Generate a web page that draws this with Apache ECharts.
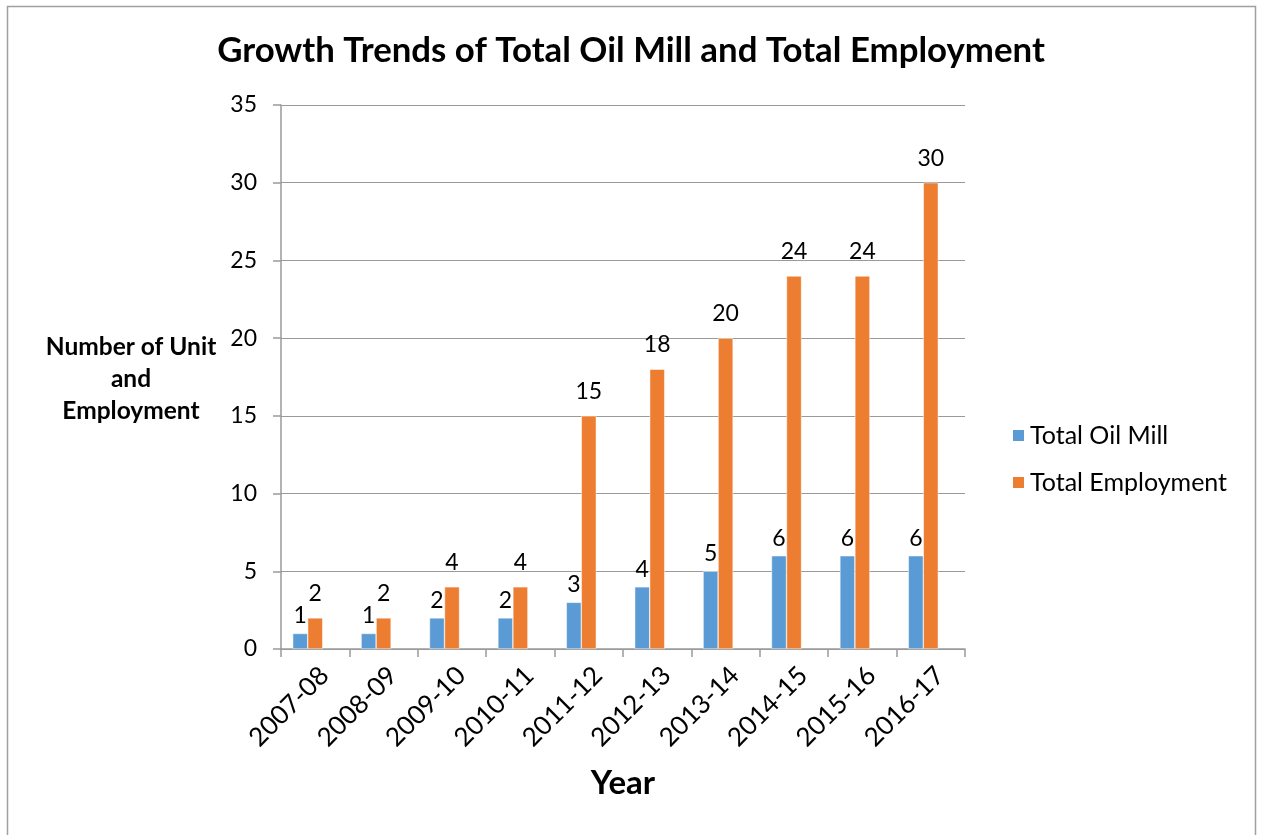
<!DOCTYPE html>
<html>
<head>
<meta charset="utf-8">
<script src="https://cdn.jsdelivr.net/npm/echarts@6/dist/echarts.min.js"></script>
<style>
    html, body { margin: 0; padding: 0; background: #fff; }
    #chart { width: 1262px; height: 835px; }
</style>
</head>
<body>
<div id="chart"></div>
<script>
// chart values
const years = ["2007-08", "2008-09", "2009-10", "2010-11", "2011-12", "2012-13", "2013-14", "2014-15", "2015-16", "2016-17"];
const oilMill = [1, 1, 2, 2, 3, 4, 5, 6, 6, 6];
const employment = [2, 2, 4, 4, 15, 18, 20, 24, 24, 30];

const font = "Lato, 'Open Sans', sans-serif";

let myChart = echarts.init(document.getElementById("chart"));

const opts = {
    textStyle: { fontFamily: font, color: "#000" },
    title: {
        text: "Growth Trends of Total Oil Mill and Total Employment",
        left: "center",
        top: 28,
        textStyle: { fontFamily: font, fontSize: 34.8, fontWeight: "bold", color: "#000" },
    },
    legend: {
        orient: "vertical",
        left: 1006,
        top: 418,
        itemWidth: 13,
        itemHeight: 13,
        itemGap: 22,
        icon: "rect",
        textStyle: { fontFamily: font, fontSize: 25, color: "#000" },
        data: ["Total Oil Mill", "Total Employment"],
    },
    graphic: [
        {
            type: "text",
            x: 131,
            y: 331,
            style: {
                text: "Number of Unit\nand\nEmployment",
                fontFamily: font,
                fontSize: 24.5,
                fontWeight: "bold",
                lineHeight: 32,
                align: "center",
                fill: "#000",
            },
        },
        {
            // outer frame like the original picture
            type: "rect",
            shape: { x: 7.5, y: 6.5, width: 1248, height: 840 },
            style: { fill: "none", stroke: "#a0a0a0", lineWidth: 1.5 },
            silent: true,
        },
    ],
    grid: {
        left: 281,
        right: 297,
        top: 105,
        bottom: 186,
    },
    xAxis: {
        type: "category",
        data: years,
        name: "Year",
        nameLocation: "middle",
        nameGap: 118,
        nameTextStyle: { fontFamily: font, fontSize: 33, fontWeight: "bold", color: "#000" },
        axisLine: { lineStyle: { color: "#9a9a9a", width: 1.5 } },
        axisTick: { show: true, length: 8, lineStyle: { color: "#9a9a9a", width: 1.5 } },
        axisLabel: { rotate: 45, interval: 0, fontSize: 26, color: "#000", margin: 13, verticalAlign: "top" },
    },
    yAxis: {
        type: "value",
        min: 0,
        max: 35,
        interval: 5,
        axisLine: { show: true, lineStyle: { color: "#9a9a9a", width: 1.5 } },
        axisTick: { show: true, length: 8, lineStyle: { color: "#9a9a9a", width: 1.5 } },
        axisLabel: { fontSize: 23, color: "#000", margin: 24 },
        splitLine: { lineStyle: { color: "#9a9a9a", width: 1 } },
    },
    series: [
        {
            name: "Total Oil Mill",
            type: "bar",
            data: oilMill,
            barWidth: 15,
            barGap: "0%",
            itemStyle: { color: "#5B9BD5", borderColor: "#fff", borderWidth: 0.5 },
            label: { show: true, position: "top", fontSize: 23, color: "#000", distance: 6 },
        },
        {
            name: "Total Employment",
            type: "bar",
            data: employment,
            barWidth: 15,
            barGap: "0%",
            itemStyle: { color: "#ED7D31", borderColor: "#fff", borderWidth: 0.5 },
            label: { show: true, position: "top", fontSize: 23, color: "#000", distance: 13 },
        },
        {
            // empty slot: the source chart leaves room for a third bar
            name: "",
            type: "bar",
            data: [],
            barWidth: 15,
            barGap: "0%",
        },
    ],
};
myChart.setOption(opts);
</script>
</body>
</html>
